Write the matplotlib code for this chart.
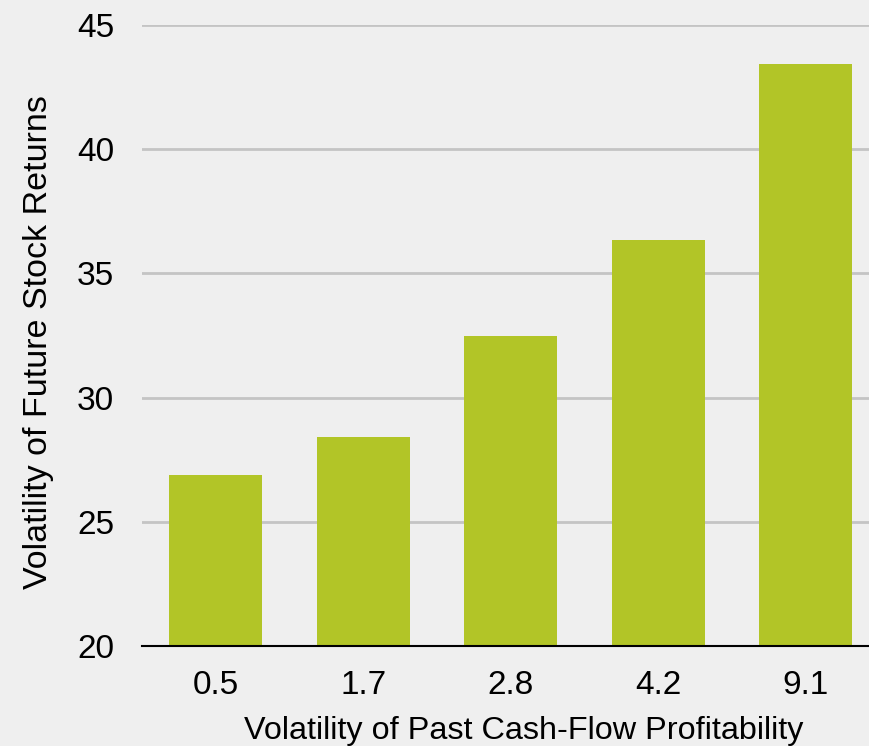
import matplotlib.pyplot as plt
import numpy as np

plt.rcParams['font.family'] = ['Liberation Sans', 'DejaVu Sans']

# volatility buckets and mean volatility of future returns
categories = ["0.5", "1.7", "2.8", "4.2", "9.1"]
values = [26.9, 28.4, 32.5, 36.35, 43.45]
yticks = [20, 25, 30, 35, 40, 45]

bg = "#efefef"
fig = plt.figure(figsize=(8.7, 7.46), dpi=100, facecolor=bg)
W, H = 870, 746
left, right, top, bottom = 142, 879.5, 25, 646
ax = fig.add_axes([left / W, 1 - bottom / H, (right - left) / W, (bottom - top) / H])
ax.set_facecolor(bg)

x = np.arange(len(categories))
ax.bar(x, values, width=0.63, color="#b2c527", zorder=3)

ax.set_xlim(-0.5, len(categories) - 0.5)
ax.set_ylim(20, 45)
ax.set_yticks(yticks)
ax.set_xticks(x)
ax.set_xticklabels(categories)
ax.yaxis.grid(True, color="#c4c4c4", linewidth=2, zorder=0)
for s in ["top", "right", "left"]:
    ax.spines[s].set_visible(False)
ax.spines["bottom"].set_color("black")
ax.spines["bottom"].set_linewidth(1.5)
ax.spines["bottom"].set_zorder(4)
ax.tick_params(axis="both", length=0, labelsize=24, colors="black")
ax.tick_params(axis="y", pad=20)
ax.tick_params(axis="x", pad=17)

ax.set_xlabel("Volatility of Past Cash-Flow Profitability", fontsize=23.3)
ax.set_ylabel("Volatility of Future Stock Returns", fontsize=24.5)
ax.xaxis.set_label_coords(0.517, -0.112)
ax.yaxis.set_label_coords(-0.119, 0.49)

fig.savefig("out.png", dpi=100, facecolor=bg)
